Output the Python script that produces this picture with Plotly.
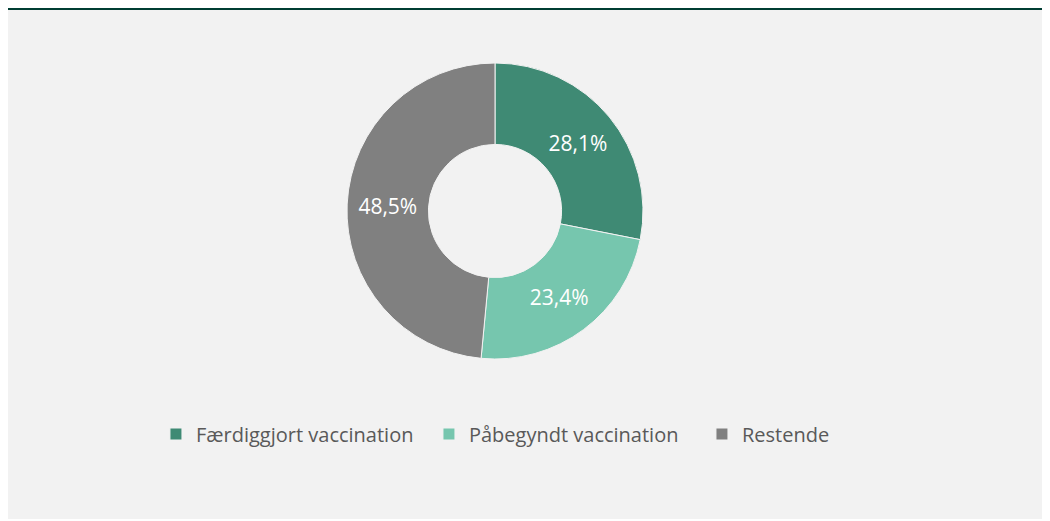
import plotly.graph_objects as go

labels = ["Færdiggjort vaccination", "Påbegyndt vaccination", "Restende"]
values = [28.1, 23.4, 48.5]
colors = ["#3f8a74", "#76c6ae", "#808080"]

# the page body adds an 8px margin, so the figure is sized to end where the grey panel ends
W, H = 1042, 511
cx, cy, r = 487, 203, 148

fig = go.Figure()
fig.add_trace(
    go.Pie(
        labels=labels,
        values=values,
        hole=0.45,
        sort=False,
        direction="clockwise",
        rotation=0,
        marker=dict(colors=colors, line=dict(color="#f2f2f2", width=1)),
        texttemplate="%{value:.1f}%",
        textposition="inside",
        insidetextorientation="horizontal",
        textfont=dict(color="white", size=21, family="Open Sans"),
        hoverinfo="label+percent",
        domain=dict(x=[(cx - r) / W, (cx + r) / W], y=[1 - (cy + r) / H, 1 - (cy - r) / H]),
    )
)

# dark green rule along the top
shapes = [
    dict(type="rect", xref="paper", yref="paper", x0=0, x1=1, y0=1 - 2 / H, y1=1,
         fillcolor="#003d33", line_width=0, layer="below"),
]

fig.update_layout(
    width=W,
    height=H,
    margin=dict(l=0, r=0, t=0, b=0),
    paper_bgcolor="#f2f2f2",
    plot_bgcolor="#f2f2f2",
    separators=",.",
    shapes=shapes,
    showlegend=True,
    legend=dict(
        orientation="h",
        x=0.142,
        xanchor="left",
        y=1 - 426 / H,
        yanchor="middle",
        font=dict(size=20, color="#595959", family="Open Sans"),
        bgcolor="rgba(0,0,0,0)",
        itemwidth=30,
        entrywidth=228,
    ),
)

fig.write_html("out.html")
